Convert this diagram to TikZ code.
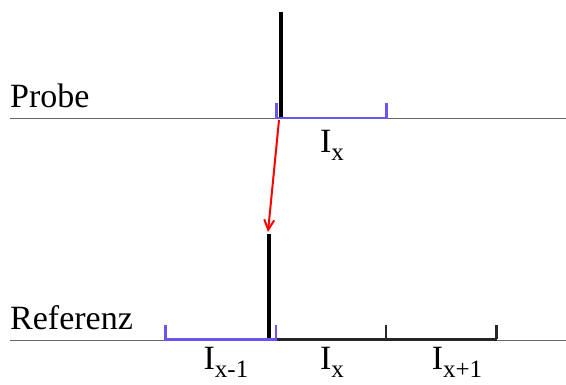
\documentclass[tikz,border=0pt]{standalone}
\usepackage{fontspec}
\setmainfont{Liberation Serif}
\usetikzlibrary{arrows.meta}
\definecolor{brblue}{RGB}{104,86,240}
\newcommand{\Isub}[1]{I\raisebox{-8pt}{\fontsize{25}{25}\selectfont #1}}
\begin{document}
\begin{tikzpicture}[x=1pt,y=1pt,
  axis/.style={draw=black!60, line width=1pt},
  peak/.style={draw=black, line width=4.5pt},
  bbr/.style={draw=brblue, line width=2.5pt},
  kbr/.style={draw=black!85, line width=2.5pt},
  lbl/.style={font=\fontsize{34}{34}\selectfont, inner sep=0pt, anchor=base},
  axlbl/.style={font=\fontsize{34}{34}\selectfont, anchor=base west, inner sep=0pt}]
\useasboundingbox (0,0) rectangle (566,385);
% Probe
\coordinate (pl) at (10,266.5);
\coordinate (pr) at (566,266.5);
\draw[axis] (pl) -- (pr);
\node[axlbl] (probe) at (10,277) {Probe};
\coordinate (pb0) at (281,267);
\coordinate (pb1) at (281,373);
\draw[peak] (pb0) -- (pb1);
\draw[bbr] (276.5,282) -- (276.5,267) -- (386.5,267) -- (386.5,282);
\node[lbl] (ix) at (332,232) {\Isub{x}};
% Referenz
\coordinate (rl) at (10,44);
\coordinate (rr) at (566,44);
\draw[axis] (rl) -- (rr);
\node[axlbl] (ref) at (10,55) {Referenz};
\coordinate (rb0) at (269,45);
\coordinate (rb1) at (269,151);
\draw[peak] (rb0) -- (rb1);
\draw[kbr] (276,45.5) -- (496.5,45.5);
\draw[kbr] (386,60) -- (386,45.5);
\draw[kbr] (496.5,60) -- (496.5,45.5);
\draw[bbr] (165.5,60) -- (165.5,45.5) -- (276,45.5) -- (276,60);
\node[lbl] (rm1) at (226,15) {\Isub{x-1}};
\node[lbl] (r0) at (332,15) {\Isub{x}};
\node[lbl] (rp1) at (457,15) {\Isub{x+1}};
% arrow
\coordinate (as) at (279,265);
\coordinate (ae) at (268,153);
\draw[red, line width=2pt, -{Straight Barb[length=10pt,width=10pt]}] (as) -- (ae);
\end{tikzpicture}
\end{document}
